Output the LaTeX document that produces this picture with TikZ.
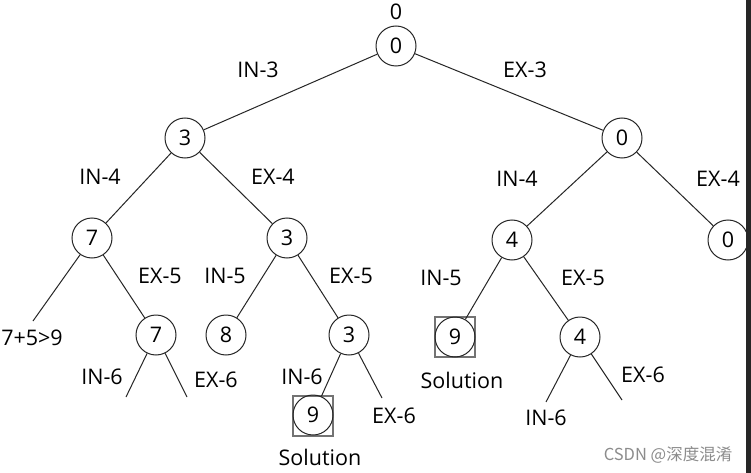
\documentclass[tikz,border=0pt]{standalone}
\usepackage{fontspec}
\setmainfont{Open Sans}
\newfontfamily\cjk{Noto Sans CJK SC}
\begin{document}
\begin{tikzpicture}[x=1pt,y=-1pt,
  nd/.style={circle,draw=black!85,line width=1pt,minimum size=40pt,inner sep=0pt,text=black,font=\fontsize{21.5}{23}\selectfont},
  lbl/.style={font=\fontsize{21.5}{23}\selectfont,text=black,inner sep=0pt},
  edge/.style={draw=black!85,line width=1pt},
  solbox/.style={draw=black!55,line width=1.3pt,minimum size=40pt,inner sep=0pt}]
\useasboundingbox (0,0) rectangle (751,473);
\fill[white] (0,0) rectangle (751,473);
\fill[black!85] (746,0) rectangle (751,473);
% nodes
\node[nd] (r) at (396,46) {0};
\node[lbl] (rt) at (396,12) {0};
\node[nd] (a) at (185,138) {3};
\node[nd] (b) at (622,138) {0};
\node[nd] (aa) at (92,238) {7};
\node[nd] (ab) at (287,238) {3};
\node[nd] (ba) at (512,240) {4};
\node[nd] (bb) at (728,240) {0};
\node[nd] (abb) at (156,335) {7};
\node[nd] (aba) at (226,335) {8};
\node[nd] (abc) at (349,335) {3};
\node[solbox] (s1b) at (455,337) {};
\node[nd] (s1) at (455,337) {9};
\node[nd] (bab) at (580,337) {4};
\node[solbox] (s2b) at (313,416) {};
\node[nd] (s2) at (313,415) {9};
% free ends
\coordinate (e1) at (33,321);
\coordinate (e2) at (126,397);
\coordinate (e3) at (187,397);
\coordinate (e4) at (382,398);
\coordinate (e5) at (546,402);
\coordinate (e6) at (622,400);
% edges
\draw[edge] (r) -- (a);
\draw[edge] (r) -- (b);
\draw[edge] (a) -- (aa);
\draw[edge] (a) -- (ab);
\draw[edge] (b) -- (ba);
\draw[edge] (b) -- (bb);
\draw[edge] (aa) -- (e1);
\draw[edge] (aa) -- (abb);
\draw[edge] (ab) -- (aba);
\draw[edge] (ab) -- (abc);
\draw[edge] (ba) -- (s1);
\draw[edge] (ba) -- (bab);
\draw[edge] (abb) -- (e2);
\draw[edge] (abb) -- (e3);
\draw[edge] (abc) -- (s2);
\draw[edge] (abc) -- (e4);
\draw[edge] (bab) -- (e5);
\draw[edge] (bab) -- (e6);
% labels
\node[lbl] (l1) at (258,70) {IN-3};
\node[lbl] (l2) at (525,70) {EX-3};
\node[lbl] (l3) at (100,177) {IN-4};
\node[lbl] (l4) at (273,177) {EX-4};
\node[lbl] (l5) at (517,179) {IN-4};
\node[lbl] (l6) at (718,179) {EX-4};
\node[lbl] (l7) at (160,276) {EX-5};
\node[lbl] (l8) at (225,276) {IN-5};
\node[lbl] (l9) at (351,276) {EX-5};
\node[lbl] (l10) at (441,278) {IN-5};
\node[lbl] (l11) at (583,278) {EX-5};
\node[lbl] (l12) at (32,338) {7+5>9};
\node[lbl] (l13) at (102,377) {IN-6};
\node[lbl] (l14) at (216,380) {EX-6};
\node[lbl] (l15) at (302,377) {IN-6};
\node[lbl] (l16) at (394,416) {EX-6};
\node[lbl] (l17) at (546,418) {IN-6};
\node[lbl] (l18) at (643,375) {EX-6};
\node[lbl] (l19) at (462,380) {Solution};
\node[lbl] (l20) at (320,457) {Solution};
\node[inner sep=0pt,text=black!45,font=\cjk\fontsize{16.5}{18}\selectfont] (wm) at (668,455) {CSDN @深度混淆};
\end{tikzpicture}
\end{document}
